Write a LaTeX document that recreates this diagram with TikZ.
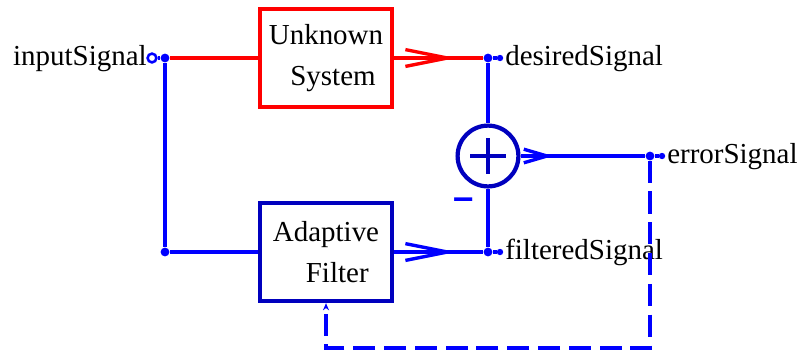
\documentclass[tikz,border=0pt]{standalone}
\usepackage{fontspec}
\setmainfont{Liberation Serif}
\newfontfamily\signfont{Liberation Sans}
\usepackage{xcolor}
\definecolor{sysred}{RGB}{255, 0, 0}
\definecolor{sigblue}{RGB}{0, 0, 255}
\definecolor{blockblue}{RGB}{0, 0, 190}
\usepackage{tikz}
\usetikzlibrary{arrows.meta,positioning,calc}

\begin{document}
\begin{tikzpicture}[
  x=0.025cm, y=-0.025cm,
  font=\fontsize{20.6}{29}\selectfont,
  block/.style={draw, line width=3pt, fill=white, minimum width=3.3cm, minimum height=2.45cm, align=center, inner sep=0pt},
  sum/.style={circle, draw=blockblue, line width=3pt, fill=white, minimum size=1.52cm, inner sep=0pt,
    path picture={\draw[blockblue, line width=3pt]
      ([xshift=-0.44cm]path picture bounding box.center) -- ([xshift=0.44cm]path picture bounding box.center)
      ([yshift=-0.44cm]path picture bounding box.center) -- ([yshift=0.44cm]path picture bounding box.center);}},
  wire/.style={line width=2.4pt, color=sigblue},
  redwire/.style={line width=2.4pt, color=sysred},
  chevron/.style={-{Straight Barb[length=1.05cm, width=0.42cm]}},
  smallchev/.style={-{Straight Barb[length=0.58cm, width=0.34cm]}},
  jdot/.style={circle, fill=sigblue, inner sep=0pt, minimum size=0.22cm},
  tdot/.style={circle, fill=sigblue, inner sep=0pt, minimum size=0.16cm},
  port/.style={circle, draw=sigblue, fill=white, line width=1.8pt, inner sep=0pt, minimum size=0.22cm},
  lbl/.style={inner sep=0pt}
]
\useasboundingbox (0,0) rectangle (800,351);

% blocks
\node[block, draw=sysred] (unknown) at (326,58) {Unknown\\\hspace*{10pt}System};
\node[block, draw=blockblue] (adaptive) at (326,252) {Adaptive\\\hspace*{16pt}Filter};
\node[sum] (sum) at (488,156) {};

% junctions and ports
\node[port] (input) at (152,58) {};
\node[jdot] (jin) at (165,58) {};
\node[jdot] (jlow) at (165,252) {};
\node[jdot] (jdes) at (488,58) {};
\node[tdot] (des) at (500,58) {};
\node[jdot] (jfilt) at (488,252) {};
\node[tdot] (filt) at (500,252) {};
\node[jdot] (jerr) at (650,156) {};
\node[tdot] (err) at (662,156) {};

% labels
\node[lbl, anchor=base east] (inlbl) at (147,65) {inputSignal};
\node[lbl, anchor=base west] (deslbl) at (505,65) {desiredSignal};
\node[lbl, anchor=base west] (filtlbl) at (505,259) {filteredSignal};
\node[lbl, anchor=base west] (errlbl) at (667,163) {errorSignal};
\node[lbl, text=sigblue, font=\signfont\fontsize{26}{26}\selectfont\bfseries] (minus) at (464,204) {–};

\coordinate (tipU) at (456,58);
\coordinate (tipA) at (456,252);
\coordinate (tipE) at (553,156);
\coordinate (fbR) at (650,348);

% connectors
\draw[wire] (input) -- (jin);
\draw[redwire] (jin) -- (unknown);
\draw[redwire] (unknown) -- (jdes);
\draw[redwire, chevron] (unknown) -- (tipU);
\draw[wire] (jdes) -- (des);
\draw[wire] (jdes) -- (sum);
\draw[wire] (jin) -- (jlow);
\draw[wire] (jlow) -- (adaptive);
\draw[wire] (adaptive) -- (jfilt);
\draw[wire, chevron] (adaptive) -- (tipA);
\draw[wire] (jfilt) -- (filt);
\draw[wire] (jfilt) -- (sum);
\draw[wire] (sum) -- (jerr);
\draw[wire, smallchev] (sum) -- (tipE);
\draw[wire] (jerr) -- (err);
\draw[wire, dash pattern=on 0.55cm off 0.22cm, -{Stealth[length=0.18cm, width=0.15cm]}] (jerr) -- (fbR) -| (adaptive.south);
\end{tikzpicture}
\end{document}
